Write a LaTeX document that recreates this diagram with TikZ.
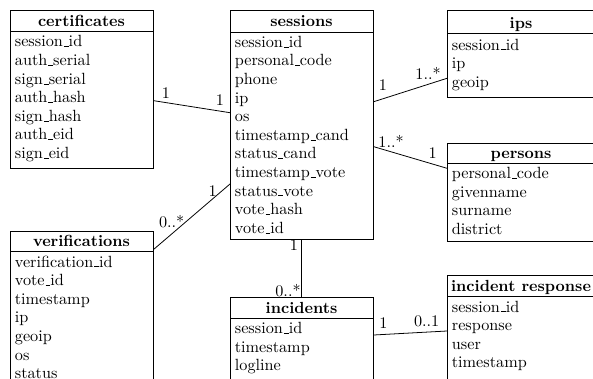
\documentclass[tikz,border=0pt]{standalone}
\usetikzlibrary{calc}
\newcommand{\usc}{\leavevmode\kern.06em\vbox{\hrule width.3em}}
\newcommand{\erbox}[9]{%
  \node[tbl, minimum width=#4*0.635pt, minimum height=#5*0.635pt] (#1) at (#2,#3) {};
  \draw (#1.north west) ++(0,#6) -- ++(#4,0);
  \node[ttl] (#1-t) at ($(#1.north west)+(#4/2,#6-5)$) {#7};
  \foreach \f [count=\i from 0] in {#8}
    \node[fld] (#1-\i) at ($(#1.north west)+(4.5,#6+#9+18.6*\i)$) {\f};
}
\begin{document}
\begin{tikzpicture}[x=0.635pt,y=-0.635pt, line width=0.5pt,
  font=\fontsize{10.3}{12}\selectfont,
  tbl/.style={draw, rectangle, anchor=north west, inner sep=0pt},
  ttl/.style={font=\fontsize{10.2}{12}\selectfont\bfseries, anchor=base, inner sep=0pt},
  fld/.style={anchor=base west, inner sep=0pt},
  lbl/.style={inner sep=0pt},
  conn/.style={draw}]
\clip (0,0) rectangle (593,379);
\fill[white] (0,0) rectangle (593,379);

\erbox{cert}{10}{10}{143}{157.7}{21.7}{certificates}{session\usc id,auth\usc serial,sign\usc serial,auth\usc hash,sign\usc hash,auth\usc eid,sign\usc eid}{15.3}
\erbox{sessions}{230}{10}{143}{229.3}{22}{sessions}{session\usc id,personal\usc code,phone,ip,os,timestamp\usc cand,status\usc cand,timestamp\usc vote,status\usc vote,vote\usc hash,vote\usc id}{15.3}
\erbox{ips}{447}{10}{148}{86.7}{23.3}{ips}{session\usc id,ip,geoip}{16.8}
\erbox{persons}{447}{143.3}{148}{97.4}{20}{persons}{personal\usc code,givenname,surname,district}{15.3}
\erbox{verif}{10}{230.7}{143}{170}{21}{verifications}{verification\usc id,vote\usc id,timestamp,ip,geoip,os,status}{15.3}
\erbox{incidents}{230}{296.7}{143}{120}{21.6}{incidents}{session\usc id,timestamp,logline}{15.3}
\erbox{incresp}{447}{275}{148}{130}{21.7}{incident response}{session\usc id,response,user,timestamp}{15.3}

% connectors
\draw[conn] ($(cert.north east)+(0,90.7)$) -- ($(sessions.north west)+(0,102.7)$);
\node[lbl] (l1a) at (166,93) {1};
\node[lbl] (l1b) at (220,100) {1};

\draw[conn] ($(sessions.north east)+(0,91.7)$) -- ($(ips.north west)+(0,68.3)$);
\node[lbl] (l2a) at (383,85) {1};
\node[lbl] (l2b) at (428,73) {1..*};

\draw[conn] ($(sessions.north east)+(0,136.7)$) -- ($(persons.north west)+(0,25)$);
\node[lbl] (l3a) at (391,141) {1..*};
\node[lbl] (l3b) at (432.7,153) {1};

\draw[conn] ($(sessions.north west)+(0,174)$) -- ($(verif.north east)+(0,18.6)$);
\node[lbl] (l4a) at (212.7,190.7) {1};
\node[lbl] (l4b) at (171.7,221.7) {0..*};

\draw[conn] ($(sessions.south west)+(71,0)$) -- ($(incidents.north west)+(71,0)$);
\node[lbl] (l5a) at (294,245) {1};
\node[lbl] (l5b) at (288,291) {0..*};

\draw[conn] ($(incidents.north east)+(0,38.3)$) -- ($(incresp.north west)+(0,56)$);
\node[lbl] (l6a) at (383.3,323.3) {1};
\node[lbl] (l6b) at (426.7,321.7) {0..1};
\end{tikzpicture}
\end{document}
